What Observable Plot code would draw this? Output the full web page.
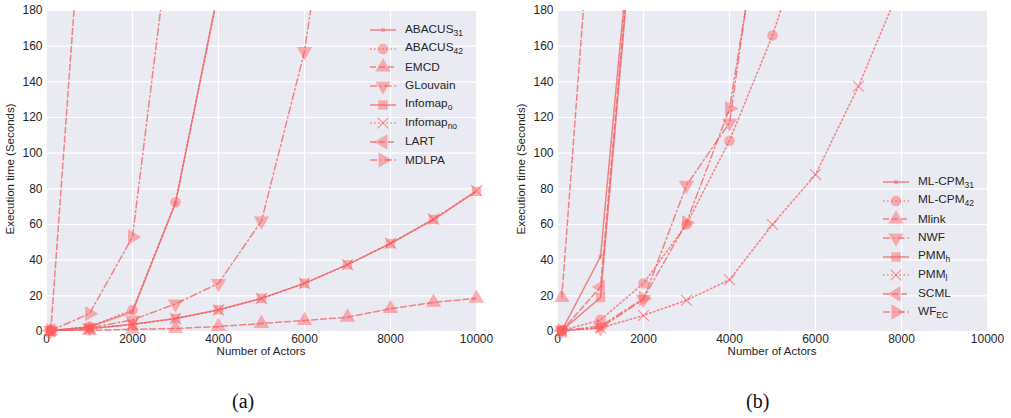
<!DOCTYPE html>
<html><head><meta charset="utf-8">
<script src="https://cdn.jsdelivr.net/npm/d3@7"></script>
<script src="https://cdn.jsdelivr.net/npm/@observablehq/plot@0.6"></script>
<style>
body{margin:0;background:#fff;font-family:"Liberation Sans",Arial,sans-serif;}
#wrap{position:relative;width:1011px;height:418px;overflow:hidden;background:#fff;}
.panel{position:absolute;top:0;}
.legend{position:absolute;font-size:11.8px;color:#262626;line-height:1;}
.row{display:flex;align-items:center;height:18.6px;white-space:nowrap;}
.row svg{margin-right:8px;flex:none;}
.row sub{font-size:8.5px;vertical-align:-3px;}
.xlab{position:absolute;width:300px;text-align:center;font-size:11.5px;color:#262626;}
.ylab{position:absolute;width:300px;text-align:center;font-size:11.5px;color:#262626;transform:rotate(-90deg);transform-origin:center center;}
.cap{position:absolute;top:390px;font-family:"Liberation Serif",serif;font-size:20px;color:#111;}
</style></head><body><div id="wrap"></div><script>
// ---- data ----
const actors = [100, 1000, 2000, 3000, 4000, 5000, 6000, 7000, 8000, 9000, 10000];
const xTicks = [0, 2000, 4000, 6000, 8000, 10000];
const yTicks = [0, 20, 40, 60, 80, 100, 120, 140, 160, 180];

const namesA = ["ABACUS_31", "ABACUS_42", "EMCD", "GLouvain", "Infomap_o", "Infomap_no", "LART", "MDLPA"];
const abacus31 = [0.5, 2.5, 11, 72, 192];
const abacus42 = [0.5, 2.8, 12, 72.5, 190];
const emcd = [0.3, 0.6, 1.2, 1.7, 2.8, 4.5, 6.2, 8, 12.8, 16.3, 18.6];
const glouvain = [0.5, 2, 6.5, 15.5, 27, 62, 157, 320];
const infomapO = [0.3, 1.5, 4, 7.3, 12.2, 18.6, 27, 37.5, 49.3, 62.8, 78.6];
const infomapNo = [0.3, 1.5, 4, 7.2, 12, 18.5, 27, 37.5, 49.5, 63, 79];
const lart = [0.5, 300];
const mdlpa = [0.5, 10, 53, 248];

const namesB = ["ML-CPM_31", "ML-CPM_42", "Mlink", "NWF", "PMM_h", "PMM_l", "SCML", "WF_EC"];
const mlcpm31 = [0.5, 42, 302];
const mlcpm42 = [0.5, 6.5, 27, 60, 107, 166, 240];
const mlink = [19, 309];
const nwf = [0.5, 2, 18, 82, 117, 287];
const pmmH = [0.5, 19, 297];
const pmmL = [0.3, 2, 9, 17.5, 29, 60, 88, 137.5, 195];
const scml = [0.5, 25, 300];
const wfec = [0.5, 3, 18.5, 61, 125, 274];

const xLabel = "Number of Actors";
const yLabel = "Execution time (Seconds)";
const captions = ["(a)", "(b)"];

// ---- styles ----
const LINE = "#f25c5c", MARK = "#ff5a5a";
const styles = [
  {dash: null, symbol: "circle", r: 2.3, rotate: 0},
  {dash: "1.5,2.6", symbol: "circle", r: 5.3, rotate: 0},
  {dash: "6,3", symbol: "triangle", r: 5.7, rotate: 0},
  {dash: "7,3,1.5,3", symbol: "triangle", r: 5.7, rotate: 180},
  {dash: null, symbol: "square", r: 5.3, rotate: 0},
  {dash: "1.5,2.6", symbol: "times", r: 5, rotate: 0},
  {dash: "6,3", symbol: "triangle", r: 5.7, rotate: -90},
  {dash: "7,3,1.5,3", symbol: "triangle", r: 5.7, rotate: 90}
];

function makePanel(series, width, marginRight) {
  const rows = [];
  series.forEach((vals, i) => vals.forEach((v, j) => rows.push({s: i, x: actors[j], y: v})));
  const marks = [
    Plot.frame({fill: "#EAEAF2", stroke: null}),
    Plot.ruleX(xTicks, {stroke: "white", strokeWidth: 1.1}),
    Plot.ruleY(yTicks, {stroke: "white", strokeWidth: 1.1})
  ];
  styles.forEach((st, i) => {
    const d = rows.filter(r => r.s === i);
    marks.push(Plot.line(d, {x: "x", y: "y", stroke: LINE, strokeWidth: 1.5, strokeOpacity: 0.72,
      strokeDasharray: st.dash, clip: true}));
    const isX = st.symbol === "times";
    marks.push(Plot.dot(d.filter(r => r.y <= 180), {x: "x", y: "y", symbol: st.symbol, r: st.r, rotate: st.rotate,
      fill: isX ? "none" : MARK, fillOpacity: 0.45, stroke: isX ? MARK : "none", strokeOpacity: 0.65, strokeWidth: 1.1}));
  });
  return Plot.plot({
    width, height: 372,
    marginLeft: 46, marginRight, marginTop: 10, marginBottom: 41,
    style: {fontFamily: "Liberation Sans, Arial, sans-serif", fontSize: "12px", color: "#262626", background: "transparent", overflow: "visible"},
    x: {domain: [0, 10000], ticks: xTicks, tickSize: 0, tickPadding: 3, tickFormat: d => String(d), label: null},
    y: {domain: [0, 180], ticks: yTicks, tickSize: 0, tickPadding: 4, label: null},
    marks
  });
}

function legendSym(st) {
  const ns = "http://www.w3.org/2000/svg";
  const svg = document.createElementNS(ns, "svg");
  svg.setAttribute("width", 28); svg.setAttribute("height", 18);
  const ln = document.createElementNS(ns, "line");
  ln.setAttribute("x1", 1); ln.setAttribute("x2", 27); ln.setAttribute("y1", 9); ln.setAttribute("y2", 9);
  ln.setAttribute("stroke", LINE); ln.setAttribute("stroke-width", 1.5); ln.setAttribute("stroke-opacity", 0.72);
  if (st.dash) ln.setAttribute("stroke-dasharray", st.dash);
  svg.appendChild(ln);
  const typ = {circle: d3.symbolCircle, square: d3.symbolSquare, triangle: d3.symbolTriangle, times: d3.symbolTimes}[st.symbol];
  const p = document.createElementNS(ns, "path");
  p.setAttribute("d", d3.symbol(typ, Math.PI * st.r * st.r)());
  p.setAttribute("transform", `translate(14,9) rotate(${st.rotate})`);
  if (st.symbol === "times") { p.setAttribute("fill", "none"); p.setAttribute("stroke", MARK); p.setAttribute("stroke-opacity", 0.65); p.setAttribute("stroke-width", 1.1); }
  else { p.setAttribute("fill", MARK); p.setAttribute("fill-opacity", 0.45); }
  svg.appendChild(p);
  return svg;
}

function makeLegend(names, left, top) {
  const div = document.createElement("div");
  div.className = "legend";
  div.style.left = left + "px"; div.style.top = top + "px";
  names.forEach((n, i) => {
    const row = document.createElement("div"); row.className = "row";
    row.appendChild(legendSym(styles[i]));
    const span = document.createElement("span");
    const [base, sub] = n.split("_");
    span.textContent = base;
    if (sub) { const s = document.createElement("sub"); s.textContent = sub; span.appendChild(s); }
    row.appendChild(span);
    div.appendChild(row);
  });
  return div;
}

function addText(cls, text, left, top) {
  const d = document.createElement("div"); d.className = cls; d.textContent = text;
  d.style.left = left + "px"; d.style.top = top + "px";
  wrap.appendChild(d); return d;
}

const wrap = document.getElementById("wrap");
const pA = makePanel([abacus31, abacus42, emcd, glouvain, infomapO, infomapNo, lart, mdlpa], 505, 29);
pA.classList.add("panel"); pA.style.left = "0px";
const pB = makePanel([mlcpm31, mlcpm42, mlink, nwf, pmmH, pmmL, scml, wfec], 500, 24);
pB.classList.add("panel"); pB.style.left = "511px";
wrap.appendChild(pA); wrap.appendChild(pB);
wrap.appendChild(makeLegend(namesA, 369, 21));
wrap.appendChild(makeLegend(namesB, 882, 173));
// axis labels (centred on each plot area)
addText("xlab", xLabel, 261 - 150, 345);
addText("xlab", xLabel, 772 - 150, 345);
addText("ylab", yLabel, 10 - 150, 170 - 7);
addText("ylab", yLabel, 521 - 150, 170 - 7);
addText("cap", captions[0], 232, 390);
addText("cap", captions[1], 746, 390);
</script></body></html>
